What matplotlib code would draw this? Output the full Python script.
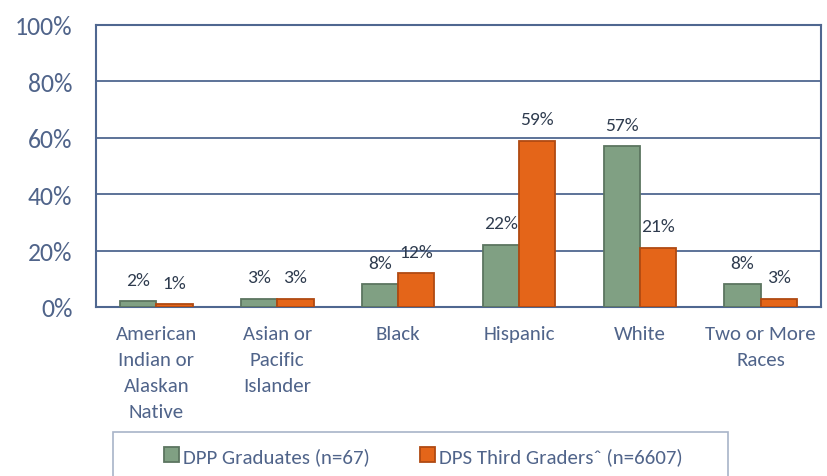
import numpy as np
import matplotlib
matplotlib.use('Agg')
import matplotlib.pyplot as plt
from matplotlib.patches import Rectangle

# Daten
kategorien = ['American\nIndian or\nAlaskan\nNative', 'Asian or\nPacific\nIslander', 'Black',
              'Hispanic', 'White', 'Two or More\nRaces']
dpp_graduates = [2, 3, 8, 22, 57, 8]
dps_third = [1, 3, 12, 59, 21, 3]
serien_namen = ['DPP Graduates (n=67)', 'DPS Third Graders\u02c6 (n=6607)']
y_ticks = [0, 20, 40, 60, 80, 100]

plt.rcParams['font.family'] = ['Carlito', 'DejaVu Sans']

achsen_farbe = '#4F6790'
text_farbe = '#50648A'
gruen, gruen_rand = '#80A083', '#5C7560'
orange, orange_rand = '#E46519', '#B04A12'

fig = plt.figure(figsize=(8.27, 4.77), dpi=100)
ax = fig.add_axes([0.1161, 0.3543, 0.8767, 0.5912])

x = np.arange(len(kategorien))
breite = 0.3
b1 = ax.bar(x - breite / 2, dpp_graduates, breite, color=gruen, edgecolor=gruen_rand,
            linewidth=1.3, zorder=3, label=serien_namen[0])
b2 = ax.bar(x + breite / 2, dps_third, breite, color=orange, edgecolor=orange_rand,
            linewidth=1.3, zorder=3, label=serien_namen[1])

# Datenbeschriftungen
for bars, werte in [(b1, dpp_graduates), (b2, dps_third)]:
    for bar, w in zip(bars, werte):
        ax.annotate(f'{w}%', (bar.get_x() + bar.get_width() / 2, bar.get_height()),
                    xytext=(0, 15.5), textcoords='offset points', ha='center', va='center',
                    fontsize=14, color='#2E3B4E')

ax.set_xlim(-0.5, len(kategorien) - 0.5)
ax.set_ylim(0, 100)
ax.set_yticks(y_ticks)
ax.set_yticklabels([f'{t}%' for t in y_ticks], fontsize=18.5, color=text_farbe)
ax.set_xticks(x)
ax.set_xticklabels(kategorien, fontsize=15, color=text_farbe, linespacing=1.65, va='top')
ax.tick_params(axis='y', length=0, pad=17)
ax.tick_params(axis='x', length=0, pad=13)

ax.grid(axis='y', color=achsen_farbe, linewidth=1.3, zorder=0)
for s in ax.spines.values():
    s.set_color(achsen_farbe)
    s.set_linewidth(1.5)

# Legende mit Rahmen, der unten abgeschnitten ist
fig.patches.append(Rectangle((112.5 / 827, -0.1), (728 - 112.5) / 827, 0.1 + (477 - 433) / 477,
                             transform=fig.transFigure, facecolor='none',
                             edgecolor='#A8B4C8', linewidth=1.2))
fig.legend(handles=[b1, b2], loc='center', bbox_to_anchor=(423.5 / 827, (477 - 457) / 477),
           ncol=2, frameon=False, fontsize=15, labelcolor=text_farbe,
           handlelength=0.72, handleheight=0.72, handletextpad=0.2, columnspacing=2.4)

plt.savefig('out.png', dpi=100)
